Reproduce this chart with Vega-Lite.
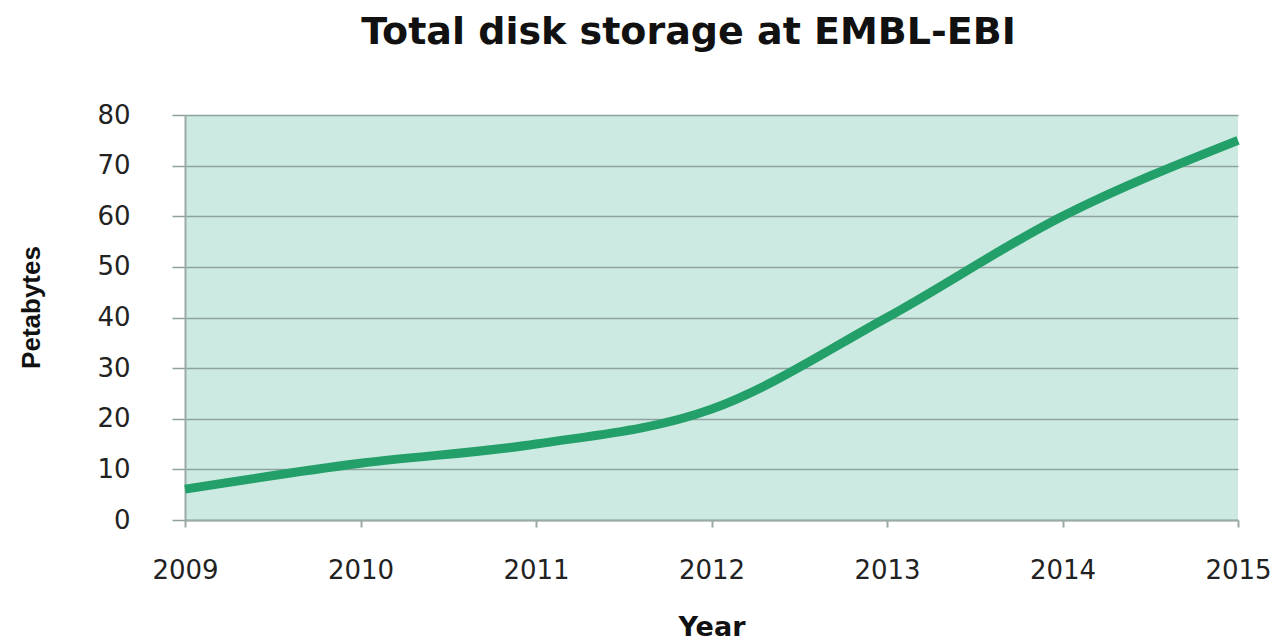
{
  "$schema": "https://vega.github.io/schema/vega-lite/v6.json",
  "autosize": "none",
  "width": 1053,
  "height": 405,
  "padding": {"left": 185, "top": 115, "right": 36, "bottom": 120},
  "background": "white",
  "config": {
    "font": "DejaVu Sans",
    "view": {"fill": "#cdeae2", "stroke": null}
  },
  "title": {
    "text": "Total disk storage at EMBL-EBI",
    "fontSize": 38,
    "fontWeight": "bold",
    "font": "DejaVu Sans",
    "color": "#111111",
    "anchor": "middle",
    "dx": -23,
    "offset": 50
  },
  "data": {
    "values": [
      {"Year": 2009, "Petabytes": 6.1},
      {"Year": 2010, "Petabytes": 11.2},
      {"Year": 2011, "Petabytes": 15},
      {"Year": 2012, "Petabytes": 21.9},
      {"Year": 2013, "Petabytes": 40},
      {"Year": 2014, "Petabytes": 60},
      {"Year": 2015, "Petabytes": 75}
    ]
  },
  "mark": {"type": "line", "interpolate": "monotone", "strokeWidth": 9, "color": "#23a06a", "strokeCap": "butt"},
  "encoding": {
    "x": {
      "field": "Year",
      "type": "quantitative",
      "scale": {"domain": [2009, 2015], "nice": false, "zero": false},
      "axis": {
        "values": [2009, 2010, 2011, 2012, 2013, 2014, 2015],
        "format": "d",
        "grid": false,
        "labelFlush": false,
        "labelOverlap": false,
        "labelBound": false,
        "domainColor": "#9aaaa6",
        "domainWidth": 2,
        "tickColor": "#9aaaa6",
        "tickWidth": 2,
        "tickSize": 7,
        "labelPadding": 30,
        "labelFontSize": 26,
        "labelColor": "#222222",
        "labelFont": "DejaVu Sans",
        "title": "Year",
        "titleFont": "DejaVu Sans",
        "titleFontSize": 27,
        "titleFontWeight": "bold",
        "titleColor": "#111111",
        "titlePadding": 31
      }
    },
    "y": {
      "field": "Petabytes",
      "type": "quantitative",
      "scale": {"domain": [0, 80], "nice": false},
      "axis": {
        "values": [0, 10, 20, 30, 40, 50, 60, 70, 80],
        "grid": true,
        "gridColor": "#8fa39e",
        "gridWidth": 1.5,
        "domainColor": "#9aaaa6",
        "domainWidth": 2,
        "tickColor": "#8fa39e",
        "tickWidth": 1.5,
        "tickSize": 13,
        "labelPadding": 42,
        "labelFontSize": 26,
        "labelColor": "#222222",
        "labelFont": "DejaVu Sans",
        "title": "Petabytes",
        "titleFont": "Liberation Sans",
        "titleFontSize": 26,
        "titleFontWeight": "bold",
        "titleColor": "#111111",
        "titlePadding": 52,
        "titleY": 192
      }
    }
  }
}
